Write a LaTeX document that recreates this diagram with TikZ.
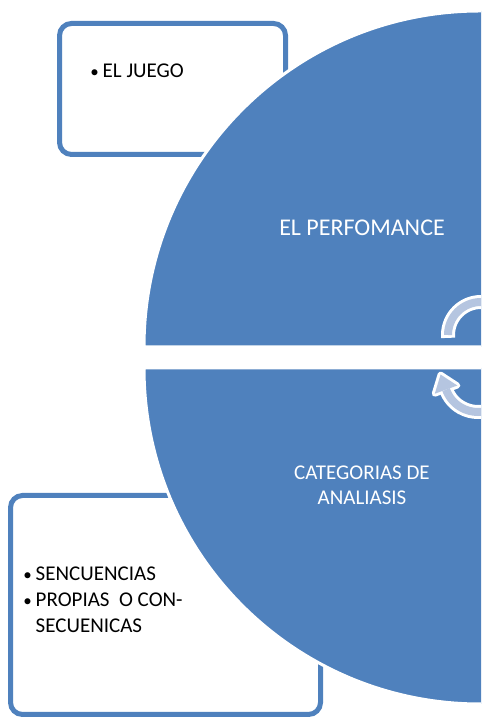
\documentclass[tikz,border=0pt]{standalone}
\usepackage{fontspec}
\setmainfont{Carlito}
\usetikzlibrary{calc}
\definecolor{pieblue}{HTML}{4F81BD}
\definecolor{arrowblue}{HTML}{B5C5E0}
\newcommand{\bul}{\makebox[16pt][c]{\fontsize{17}{17}\selectfont\textbullet}}
\begin{document}
\begin{tikzpicture}[x=1pt,y=1pt,
        box/.style={draw=pieblue,line width=5pt,rounded corners=12pt,fill=white,inner sep=0pt},
        pie/.style={fill=pieblue,draw=white,line width=3pt},
        boxtext/.style={font=\fontsize{21}{26}\selectfont,inner sep=0pt},
        pietext/.style={text=white,align=center,inner sep=0pt}]
        \useasboundingbox (0,0) rectangle (483,719);
        \clip (0,0) rectangle (481,719);
        %% Boxes
        \node[box,minimum width=226,minimum height=131] (juegobox) at (172.5,630) {};
        \node[box,minimum width=310,minimum height=219] (secbox) at (165.5,114) {};
        %% Pies
        \coordinate (topc) at (480,372);
        \coordinate (botc) at (480,351);
        \draw[pie] ($(topc)+(180:336)$) arc[start angle=180,end angle=90,radius=336] -- ++(10,0) -- ($(topc)+(10,0)$) -- cycle;
        \draw[pie] ($(botc)+(180:336)$) arc[start angle=180,end angle=270,radius=336] -- ++(10,0) -- ($(botc)+(10,0)$) -- cycle;
        %% Arrows
        \coordinate (ta) at (481,384);
        \coordinate (ba) at (478,341);
        \coordinate (tip) at ($(ba)+(200:34)+(110:16)$);
        \coordinate (hl) at ($(ba)+(200:46)$);
        \coordinate (hr) at ($(ba)+(200:22)$);
        \draw[white,line width=14pt] ($(ta)+(185:33)$) arc[start angle=185,end angle=60,radius=33];
        \draw[arrowblue,line width=8pt] ($(ta)+(180:33)$) arc[start angle=180,end angle=60,radius=33];
        \draw[white,line width=14pt] ($(ba)+(300:34)$) arc[start angle=300,end angle=200,radius=34];
        \filldraw[white,line width=6pt,line join=round] (tip) -- (hl) -- (hr) -- cycle;
        \draw[arrowblue,line width=8pt] ($(ba)+(300:34)$) arc[start angle=300,end angle=200,radius=34];
        \fill[arrowblue] (tip) -- (hl) -- (hr) -- cycle;
        %% Labels
        \node[boxtext,anchor=base west] (juego) at (86.5,641) {\bul EL JUEGO};
        \node[boxtext,anchor=base west] (sec) at (19.5,86) {\begin{tabular}[b]{@{}l@{}l@{}}
            \bul & SENCUENCIAS\\
            \bul & PROPIAS\ \ O CON-\\
                 & SECUENICAS
        \end{tabular}};
        \node[pietext,font=\fontsize{24}{28}\selectfont,anchor=base] (perf) at (362,483) {EL PERFOMANCE};
        \node[pietext,font=\fontsize{21}{25}\selectfont,anchor=base] (cat) at (362,214) {CATEGORIAS DE\\ ANALIASIS};
\end{tikzpicture}
\end{document}
